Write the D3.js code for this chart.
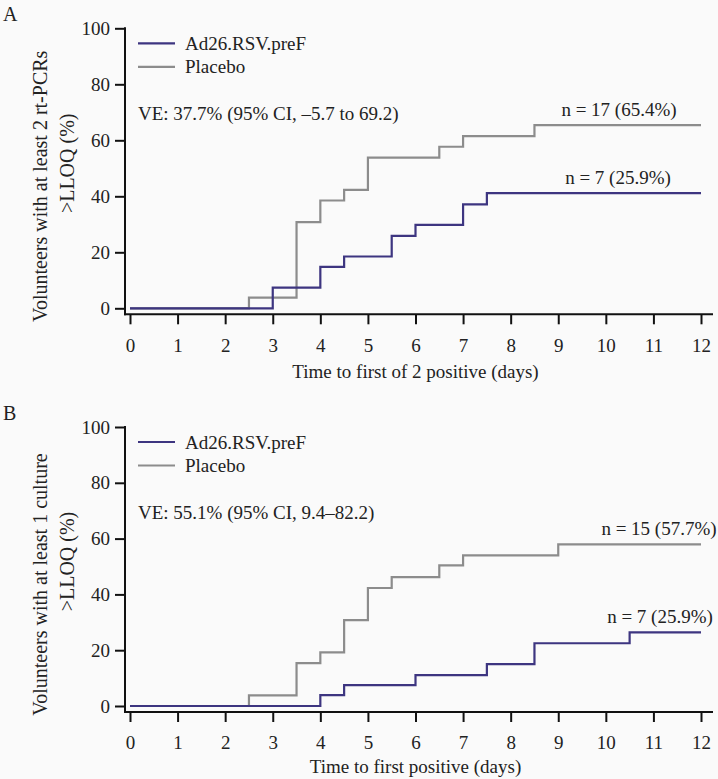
<!DOCTYPE html>
<html>
<head>
<meta charset="utf-8">
<script src="https://cdn.jsdelivr.net/npm/d3@7"></script>
<style>
  html, body { margin: 0; padding: 0; background: #fafafa; }
  svg { display: block; }
</style>
</head>
<body>
<svg id="chart" width="718" height="779"></svg>
<script>
// ---- Data ----
const xTicks = [0,1,2,3,4,5,6,7,8,9,10,11,12];
const yTicks = [0,20,40,60,80,100];
const seriesNames = ["Ad26.RSV.preF", "Placebo"];

// Panel A: at least 2 rt-PCRs > LLOQ
const aVaccineTimes  = [0, 3, 4, 4.5, 5.5, 6, 7, 7.5];
const aVaccineValues = [0, 7.4, 14.8, 18.5, 25.9, 29.8, 37.1, 41.1];
const aPlaceboTimes  = [0, 2.5, 3.5, 4, 4.5, 5, 6.5, 7, 8.5];
const aPlaceboValues = [0, 3.8, 30.8, 38.5, 42.3, 53.8, 57.7, 61.5, 65.4];

// Panel B: at least 1 culture > LLOQ
const bVaccineTimes  = [0, 4, 4.5, 6, 7.5, 8.5, 10.5];
const bVaccineValues = [0, 3.9, 7.5, 11.1, 15.0, 22.5, 26.4];
const bPlaceboTimes  = [0, 2.5, 3.5, 4, 4.5, 5, 5.5, 6.5, 7, 9];
const bPlaceboValues = [0, 3.8, 15.4, 19.2, 30.8, 42.3, 46.2, 50.4, 54.0, 57.9];

const endTime = 12;

const panels = [
  { letter: "A", top: 28.3, bottom: 308.3,
    yTitle1: "Volunteers with at least 2 rt-PCRs", yTitle2: ">LLOQ (%)",
    xTitle: "Time to first of 2 positive (days)",
    ve: "VE: 37.7% (95% CI, \u20135.7 to 69.2)",
    vT: aVaccineTimes, vV: aVaccineValues, pT: aPlaceboTimes, pV: aPlaceboValues,
    vLabel: "n = 7 (25.9%)", pLabel: "n = 17 (65.4%)" },
  { letter: "B", top: 427, bottom: 706,
    yTitle1: "Volunteers with at least 1 culture", yTitle2: ">LLOQ (%)",
    xTitle: "Time to first positive (days)",
    ve: "VE: 55.1% (95% CI, 9.4\u201382.2)",
    vT: bVaccineTimes, vV: bVaccineValues, pT: bPlaceboTimes, pV: bPlaceboValues,
    vLabel: "n = 7 (25.9%)", pLabel: "n = 15 (57.7%)" }
];

const colors = { vaccine: "#3d3580", placebo: "#8c8c8c" };
const svg = d3.select("#chart");
svg.append("rect").attr("width", 718).attr("height", 779).attr("fill", "#fafafa");

const x = d3.scaleLinear().domain([0, 12]).range([130, 701]);
const FS = 19;

panels.forEach((p, i) => {
  const y = d3.scaleLinear().domain([0, 100]).range([p.bottom, p.top]);
  const g = svg.append("g");
  const axisY = p.bottom + 6;
  const axisX = x(0) - 5;

  // y axis
  const ya = g.append("g").attr("transform", `translate(${axisX},0)`)
    .call(d3.axisLeft(y).tickValues(yTicks).tickSize(10).tickPadding(5).tickFormat(d3.format("d")));
  ya.select(".domain").remove();
  ya.selectAll(".tick line").attr("stroke", "#111").attr("stroke-width", 2);
  g.append("line").attr("x1", axisX).attr("x2", axisX)
    .attr("y1", y(100) - 1).attr("y2", axisY + 1)
    .attr("stroke", "#111").attr("stroke-width", 2);

  // x axis
  const xa = g.append("g").attr("transform", `translate(0,${axisY})`)
    .call(d3.axisBottom(x).tickValues(xTicks).tickSize(10).tickPadding(14).tickFormat(d3.format("d")));
  xa.select(".domain").remove();
  xa.selectAll(".tick line").attr("stroke", "#111").attr("stroke-width", 2);
  g.append("line").attr("x1", axisX - 1).attr("x2", x(12) + 12)
    .attr("y1", axisY).attr("y2", axisY)
    .attr("stroke", "#111").attr("stroke-width", 2);

  // step curves
  const line = d3.line().x(d => x(d[0])).y(d => y(d[1])).curve(d3.curveStepAfter);
  const mk = (T, V) => {
    const pts = T.map((t, k) => [t, V[k]]);
    pts.push([endTime, V[V.length - 1]]);
    return pts;
  };
  g.append("path").datum(mk(p.pT, p.pV)).attr("d", line)
    .attr("fill", "none").attr("stroke", colors.placebo).attr("stroke-width", 2.2);
  g.append("path").datum(mk(p.vT, p.vV)).attr("d", line)
    .attr("fill", "none").attr("stroke", colors.vaccine).attr("stroke-width", 2.2);

  // legend
  const lx = x(0) + 8;
  [[seriesNames[0], colors.vaccine], [seriesNames[1], colors.placebo]].forEach((s, k) => {
    const ly = y(100) + 15 + k * 23.5;
    g.append("line").attr("x1", lx).attr("x2", lx + 37).attr("y1", ly).attr("y2", ly)
      .attr("stroke", s[1]).attr("stroke-width", 2.2);
    g.append("text").attr("x", lx + 47).attr("y", ly + 6.5).text(s[0]);
  });

  // VE text
  g.append("text").attr("x", lx).attr("y", y(100) + 92).text(p.ve);

  // n labels
  const pEnd = p.pV[p.pV.length - 1], vEnd = p.vV[p.vV.length - 1];
  g.append("text").attr("x", i === 0 ? 619 : 659).attr("y", y(pEnd) - 9)
    .attr("text-anchor", "middle").text(p.pLabel);
  g.append("text").attr("x", i === 0 ? 618 : 660).attr("y", y(vEnd) - 9)
    .attr("text-anchor", "middle").text(p.vLabel);

  // axis titles
  const yc = (p.top + p.bottom) / 2;
  g.append("text").attr("class", "ytitle").attr("transform", `translate(47,${yc + 18}) rotate(-90)`)
    .attr("text-anchor", "middle").text(p.yTitle1);
  g.append("text").attr("class", "ytitle").attr("transform", `translate(74,${yc - 5}) rotate(-90)`)
    .attr("text-anchor", "middle").text(p.yTitle2);
  g.append("text").attr("x", x(6)).attr("y", axisY + 64 - (i === 0 ? 0 : 3))
    .attr("text-anchor", "middle").text(p.xTitle);

  // panel letter
  g.append("text").attr("class", "letter").attr("x", 3).attr("y", p.top - 7.5).text(p.letter);
});

svg.selectAll("text")
  .style("font-family", "'Liberation Serif', 'Times New Roman', serif")
  .style("font-size", FS + "px")
  .style("fill", "#222");
svg.selectAll("text.ytitle").style("font-size", "20px");
svg.selectAll("text.letter").style("font-size", "20px");
</script>
</body>
</html>
